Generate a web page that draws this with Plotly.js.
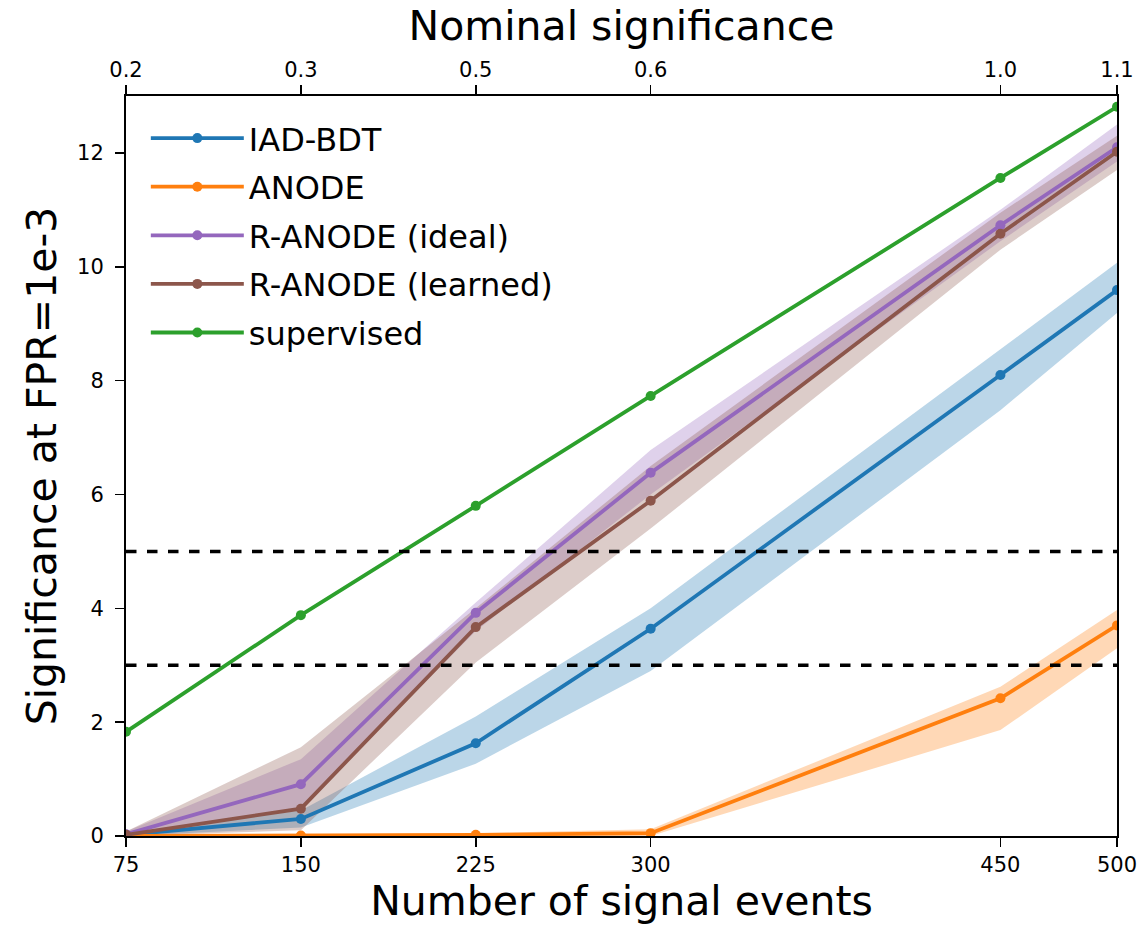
<!DOCTYPE html>
<html><head><meta charset="utf-8">
<script src="https://cdn.plot.ly/plotly-3.0.1.min.js"></script>
<style>body{margin:0;background:#fff}#chart{width:1145px;height:929px}</style>
</head><body><div id="chart"></div>
<script>
const signalEvents = [75, 150, 225, 300, 450, 500];
const nominalSig = ['0.2', '0.3', '0.5', '0.6', '1.0', '1.1'];

const iadMean = [0.02, 0.30, 1.63, 3.64, 8.10, 9.59];
const iadUp   = [0.05, 0.45, 2.10, 4.00, 8.55, 10.07];
const iadLo   = [0.00, 0.15, 1.27, 2.90, 7.48, 9.19];

const anodeMean = [0.00, 0.01, 0.02, 0.05, 2.42, 3.70];
const anodeUp   = [0.01, 0.03, 0.05, 0.12, 2.62, 3.97];
const anodeLo   = [0.00, 0.00, 0.00, 0.00, 1.86, 3.30];

const ridealMean = [0.03, 0.91, 3.92, 6.38, 10.73, 12.10];
const ridealUp   = [0.08, 1.35, 4.10, 6.78, 11.00, 12.50];
const ridealLo   = [0.00, 0.50, 3.60, 6.00, 10.45, 11.85];

const rlearnMean = [0.02, 0.48, 3.67, 5.89, 10.58, 12.02];
const rlearnUp   = [0.08, 1.56, 4.00, 6.50, 10.95, 12.30];
const rlearnLo   = [0.00, 0.10, 3.05, 5.40, 10.30, 11.70];

const supMean = [1.83, 3.88, 5.80, 7.73, 11.56, 12.81];

const names = ['IAD-BDT', 'ANODE', 'R-ANODE (ideal)', 'R-ANODE (learned)', 'supervised'];
const colors = ['#1f77b4', '#ff7f0e', '#9467bd', '#8c564b', '#2ca02c'];
const fills = ['rgba(31,119,180,0.3)', 'rgba(255,127,14,0.3)', 'rgba(148,103,189,0.3)', 'rgba(140,86,75,0.3)'];

const means = [iadMean, anodeMean, ridealMean, rlearnMean, supMean];
const ups = [iadUp, anodeUp, ridealUp, rlearnUp];
const los = [iadLo, anodeLo, ridealLo, rlearnLo];

const traces = [];
for (let i = 0; i < 4; i++) {
  traces.push({
    x: signalEvents.concat(signalEvents.slice().reverse()),
    y: ups[i].concat(los[i].slice().reverse()),
    type: 'scatter', mode: 'lines', fill: 'toself', fillcolor: fills[i],
    line: {width: 0, color: 'rgba(0,0,0,0)'}, showlegend: false, hoverinfo: 'skip'
  });
}
for (let i = 0; i < 5; i++) {
  traces.push({
    x: signalEvents, y: means[i], name: names[i], type: 'scatter', mode: 'lines+markers',
    legendgroup: 'g' + i,
    line: {color: colors[i], width: 3.8}, marker: {color: colors[i], size: 10}
  });
}
// invisible trace for top axis
traces.push({x: signalEvents, y: supMean, xaxis: 'x2', type: 'scatter', mode: 'markers',
  marker: {opacity: 0}, showlegend: false, hoverinfo: 'skip'});

const font = 'DejaVu Sans, sans-serif';
const layout = {
  width: 1145, height: 929,
  margin: {l: 126, r: 28, t: 96, b: 93},
  paper_bgcolor: '#fff', plot_bgcolor: '#fff',
  font: {family: font, color: '#000'},
  showlegend: true,
  legend: {x: 0.02, y: 0.98, xanchor: 'left', yanchor: 'top', font: {size: 32, family: font},
    bgcolor: 'rgba(255,255,255,0)', itemwidth: 93, tracegroupgap: 4, traceorder: 'grouped'},
  xaxis: {range: [75, 500], tickvals: signalEvents, ticktext: signalEvents.map(String),
    showgrid: false, zeroline: false, showline: true, linecolor: '#000', linewidth: 2,
    ticks: 'outside', ticklen: 9, tickwidth: 1.5, tickcolor: '#000',
    tickfont: {size: 21}, mirror: false,
    title: {text: 'Number of signal events', font: {size: 41}, standoff: 10}},
  xaxis2: {overlaying: 'x', side: 'top', range: [75, 500], tickvals: signalEvents, ticktext: nominalSig,
    showgrid: false, zeroline: false, showline: true, linecolor: '#000', linewidth: 2,
    ticks: 'outside', ticklen: 9, tickwidth: 1.5, tickcolor: '#000', tickfont: {size: 21},
    title: {text: 'Nominal significance', font: {size: 41}, standoff: 4}},
  yaxis: {range: [0, 13], tickvals: [0, 2, 4, 6, 8, 10, 12], showgrid: false, zeroline: false,
    showline: true, linecolor: '#000', linewidth: 2, mirror: true,
    ticks: 'outside', ticklen: 9, tickwidth: 1.5, tickcolor: '#000', tickfont: {size: 21},
    ticklabelstandoff: 7,
    title: {text: 'Significance at FPR=1e-3', font: {size: 41}, standoff: 8}},
  shapes: [
    {type: 'line', xref: 'paper', yref: 'y', x0: 0, x1: 1, y0: 5, y1: 5, line: {color: '#000', width: 3.5, dash: 'dash'}},
    {type: 'line', xref: 'paper', yref: 'y', x0: 0, x1: 1, y0: 3, y1: 3, line: {color: '#000', width: 3.5, dash: 'dash'}}
  ]
};
Plotly.newPlot('chart', traces, layout, {displayModeBar: false, staticPlot: true});
</script></body></html>
